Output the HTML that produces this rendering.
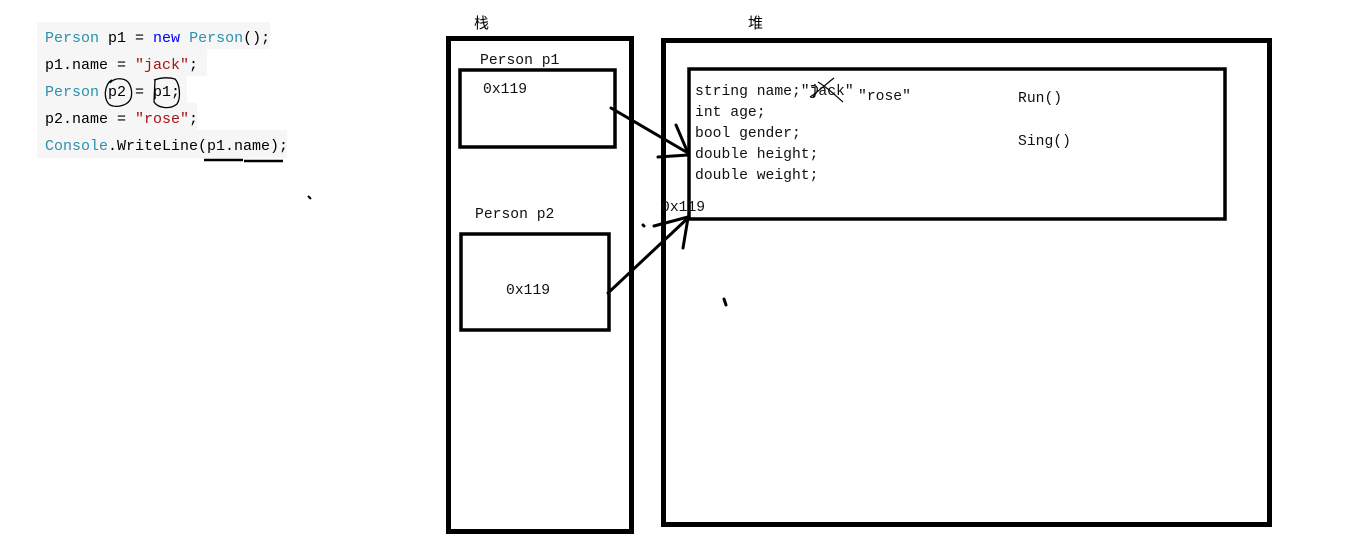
<!DOCTYPE html>
<html><head><meta charset="utf-8"><style>
html,body{margin:0;padding:0;background:#fff;}
svg{display:block;}
text{font-family:"Liberation Mono","Noto Sans CJK SC",monospace;font-size:14.7px;}
text.code{font-size:15px;}
</style></head><body>
<svg width="1360" height="551" viewBox="0 0 1360 551" xmlns="http://www.w3.org/2000/svg">
<!-- code background -->
<g fill="#f6f6f6">
<rect x="37" y="22" width="233" height="27"/>
<rect x="37" y="49" width="170" height="27"/>
<rect x="37" y="76" width="150" height="27"/>
<rect x="37" y="103" width="160" height="27"/>
<rect x="37" y="130" width="250" height="28"/>
</g>
<g>
<text class="code" x="45" y="42"><tspan fill="#2b91af">Person</tspan><tspan fill="#000"> p1 = </tspan><tspan fill="#0000ff">new</tspan><tspan fill="#000"> </tspan><tspan fill="#2b91af">Person</tspan><tspan fill="#000">();</tspan></text>
<text class="code" x="45" y="69"><tspan fill="#000">p1.name = </tspan><tspan fill="#a31515">"jack"</tspan><tspan fill="#000">;</tspan></text>
<text class="code" x="45" y="96"><tspan fill="#2b91af">Person</tspan><tspan fill="#000"> p2 = p1;</tspan></text>
<text class="code" x="45" y="123"><tspan fill="#000">p2.name = </tspan><tspan fill="#a31515">"rose"</tspan><tspan fill="#000">;</tspan></text>
<text class="code" x="45" y="150"><tspan fill="#2b91af">Console</tspan><tspan fill="#000">.WriteLine(p1.name);</tspan></text>
</g>
<!-- hand circles -->
<path d="M112 80 C104 84 103 100 110 105 C116 108 128 106 131 98 C133 90 130 80 122 79 C117 78 112 80 110 83" fill="none" stroke="#000" stroke-width="1.3"/>
<path d="M155 80 L154 102 C158 108 170 110 177 104 C181 98 180 84 175 79 C168 77 160 78 154 80" fill="none" stroke="#000" stroke-width="1.3"/>
<!-- underline -->
<path d="M204 160 L243 160 M244 161 L283 161" stroke="#000" stroke-width="2.5"/>
<path d="M308 196 L311 199" stroke="#000" stroke-width="2"/>

<!-- labels -->
<text x="474" y="28" style="font-family:'Noto Sans CJK SC',sans-serif;font-size:15px">栈</text>
<text x="748" y="28" style="font-family:'Noto Sans CJK SC',sans-serif;font-size:15px">堆</text>

<!-- stack -->
<rect x="448.5" y="38.5" width="183" height="493" fill="none" stroke="#000" stroke-width="5"/>
<!-- heap -->
<rect x="663.5" y="40.5" width="606" height="484" fill="none" stroke="#000" stroke-width="5"/>
<!-- heap inner -->
<rect x="689" y="69" width="536" height="150" fill="none" stroke="#000" stroke-width="3.5"/>
<!-- p1 box -->
<rect x="460" y="70" width="155" height="77" fill="none" stroke="#000" stroke-width="3.5"/>
<!-- p2 box -->
<rect x="461" y="234" width="148" height="96" fill="none" stroke="#000" stroke-width="3.5"/>

<text x="480" y="64" fill="#111">Person p1</text>
<text x="483" y="93" fill="#111">0x119</text>
<text x="475" y="218" fill="#111">Person p2</text>
<text x="506" y="294" fill="#111">0x119</text>

<text x="695" y="95" fill="#111">string name;"jack"</text>
<text x="858" y="100" fill="#111">"rose"</text>
<text x="695" y="116" fill="#111">int age;</text>
<text x="695" y="137" fill="#111">bool gender;</text>
<text x="695" y="158" fill="#111">double height;</text>
<text x="695" y="179" fill="#111">double weight;</text>
<text x="1018" y="102" fill="#111">Run()</text>
<text x="1018" y="145" fill="#111">Sing()</text>
<text x="661" y="211" fill="#111">0x119</text>
<!-- strike on jack -->
<path d="M810 97 C818 92 826 84 834 78 M818 82 C828 88 836 96 843 102 M811 86 C818 84 820 90 813 97" fill="none" stroke="#000" stroke-width="1.2"/>

<!-- arrows -->
<g stroke="#000" stroke-width="3" fill="none" stroke-linecap="round">
<path d="M611 108 L688 153"/>
<path d="M676 125 L688 153"/>
<path d="M658 157 L688 155"/>
<path d="M608 293 L688 218"/>
<path d="M654 226 L688 217"/>
<path d="M683 248 L688 218"/>
<path d="M643 225 L644 226"/>
<path d="M724 299 L726 305"/>
</g>
</svg>
</body></html>
